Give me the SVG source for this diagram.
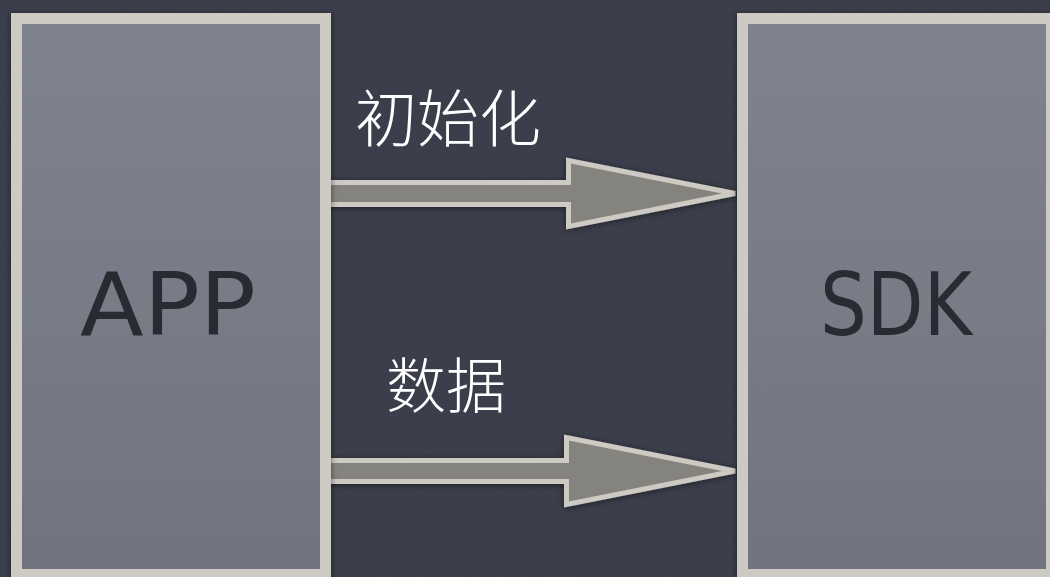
<svg xmlns="http://www.w3.org/2000/svg" width="1050" height="577" viewBox="0 0 1050 577">
  <defs>
    <linearGradient id="boxFill" x1="0" y1="0" x2="0" y2="1">
      <stop offset="0" stop-color="#7f838f"/>
      <stop offset="1" stop-color="#71747f"/>
    </linearGradient>
    <filter id="shadow" x="-10%" y="-10%" width="120%" height="120%">
      <feGaussianBlur in="SourceAlpha" stdDeviation="3"/>
      <feOffset dx="0" dy="1" result="b"/>
      <feFlood flood-color="#000" flood-opacity="0.5"/>
      <feComposite in2="b" operator="in"/>
      <feMerge><feMergeNode/><feMergeNode in="SourceGraphic"/></feMerge>
    </filter>
    <filter id="grain" x="0" y="0" width="100%" height="100%">
      <feTurbulence type="fractalNoise" baseFrequency="0.9" numOctaves="2" seed="3" result="n"/>
      <feColorMatrix in="n" type="matrix" values="0 0 0 0 1  0 0 0 0 1  0 0 0 0 1  0 0 0 0.05 0"/>
    </filter>
  </defs>
  <style>
    .box { fill: url(#boxFill); stroke: #cdc9c3; stroke-width: 11; }
    .arrow { fill: #85837d; stroke: #cdc9c3; stroke-width: 5; stroke-linejoin: miter; }
    .lbl { font-family: "Noto Sans CJK SC", sans-serif; font-weight: 300; fill: #ffffff; }
    .hand { font-family: "DejaVu Sans", sans-serif; fill: #2a2a30; }
  </style>
  <rect x="0" y="0" width="1050" height="577" fill="#363946"/>
  <rect x="0" y="0" width="1050" height="577" filter="url(#grain)"/>

  <g id="connectors" filter="url(#shadow)">
    <polygon class="arrow" points="322,182.5 568.5,182.5 568.5,160.5 735,193.5 568.5,226.5 568.5,204.5 322,204.5"/>
    <polygon class="arrow" points="322,460.5 566.5,460.5 566.5,437.5 735,471 566.5,504.5 566.5,481.5 322,481.5"/>
  </g>

  <g id="node-app" filter="url(#shadow)">
    <rect class="box" x="16.5" y="18.5" width="309" height="556"/>
    <text class="hand" x="168" y="335" font-size="88" text-anchor="middle" textLength="176" lengthAdjust="spacingAndGlyphs">APP</text>
  </g>

  <g id="node-sdk" filter="url(#shadow)">
    <rect class="box" x="742.5" y="18.5" width="309" height="556"/>
    <text class="hand" x="896" y="335" font-size="88" text-anchor="middle" textLength="152" lengthAdjust="spacingAndGlyphs">SDK</text>
  </g>

  <g id="labels">
    <text class="lbl" x="355" y="142" font-size="62">初始化</text>
    <text class="lbl" x="386" y="408" font-size="60">数据</text>
  </g>
</svg>
